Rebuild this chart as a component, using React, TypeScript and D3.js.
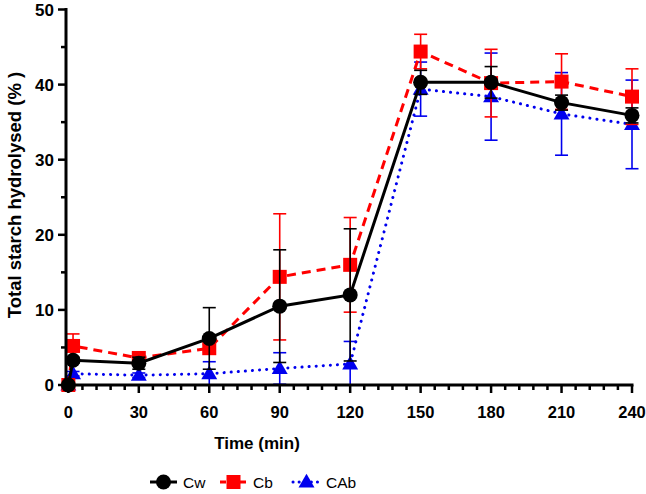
import React from "react";
import * as d3 from "d3";

const times = [0, 2, 30, 60, 90, 120, 150, 180, 210, 240];
const cwMean = [0, 3.3, 2.9, 6.2, 10.5, 12.0, 40.3, 40.3, 37.6, 35.9];
const cwSd = [0, 0.4, 0.8, 4.1, 7.5, 8.8, 1.6, 2.1, 1.0, 1.0];
const cbMean = [0, 5.2, 3.6, 4.9, 14.4, 16.0, 44.4, 40.2, 40.4, 38.4];
const cbSd = [0, 1.6, 0.3, 0.5, 8.4, 6.3, 2.3, 4.5, 3.7, 3.7];
const cabMean = [0, 1.5, 1.3, 1.5, 2.2, 2.8, 39.4, 38.4, 36.1, 34.7];
const cabSd = [0, 0.3, 0.3, 1.6, 2.1, 3.0, 3.6, 5.8, 5.5, 5.9];
const xTicks = [0, 30, 60, 90, 120, 150, 180, 210, 240];
const yTicks = [0, 10, 20, 30, 40, 50];
const seriesNames = ["Cw", "Cb", "CAb"];

const W = 646;
const H = 494;
const font = "'Liberation Sans', Arial, sans-serif";

export default function App() {
  const x = d3.scaleLinear().domain([-1, 240]).range([66, 632]);
  const y = d3.scaleLinear().domain([0, 50]).range([385, 9.5]);

  const series = [
    { name: seriesNames[2], mean: cabMean, sd: cabSd, color: "#0000ee", dash: "0.1 7", shape: "tri", cap: "round" },
    { name: seriesNames[1], mean: cbMean, sd: cbSd, color: "#ff0000", dash: "9 6", shape: "sq", cap: "butt" },
    { name: seriesNames[0], mean: cwMean, sd: cwSd, color: "#000000", dash: "", shape: "circ", cap: "butt" },
  ];

  const line = (vals: number[]) =>
    d3.line<number>().x((_, i) => x(times[i])).y((v) => y(v))(vals) || "";

  const marker = (shape: string, cx: number, cy: number, color: string, key: string) => {
    if (shape === "circ") return <circle key={key} cx={cx} cy={cy} r={7.5} fill={color} />;
    if (shape === "sq") return <rect key={key} x={cx - 7} y={cy - 7} width={14} height={14} fill={color} />;
    const s = d3.symbol().type(d3.symbolTriangle).size(110)() || "";
    return <path key={key} d={s} transform={`translate(${cx},${cy + 1})`} fill={color} />;
  };

  const minorX = d3.range(0, 241, 6).filter((t) => t % 30 !== 0);
  const minorY = d3.range(5, 50, 10);

  const legendItems = [
    { name: seriesNames[0], x0: 150, color: "#000", dash: "", shape: "circ", cap: "butt" },
    { name: seriesNames[1], x0: 220, color: "#ff0000", dash: "6 4", shape: "sq", cap: "butt" },
    { name: seriesNames[2], x0: 293, color: "#0000ee", dash: "0.1 6", shape: "tri", cap: "round" },
  ];

  return (
    <svg width={W} height={H} style={{ position: "absolute", left: 0, top: 0, background: "#fff" }}>
      {series.map((s) => (
        <g key={s.name}>
          {s.mean.map((m, i) => {
            if (s.sd[i] <= 0) return null;
            const cx = x(times[i]);
            const y1 = y(m + s.sd[i]);
            const y2 = y(Math.max(0, m - s.sd[i]));
            return (
              <g key={i} stroke={s.color} strokeWidth={1.6}>
                <line x1={cx} x2={cx} y1={y1} y2={y2} />
                <line x1={cx - 6.5} x2={cx + 6.5} y1={y1} y2={y1} />
                <line x1={cx - 6.5} x2={cx + 6.5} y1={y2} y2={y2} />
              </g>
            );
          })}
          <path
            d={line(s.mean)}
            fill="none"
            stroke={s.color}
            strokeWidth={3}
            strokeDasharray={s.dash || undefined}
            strokeLinecap={s.cap as any}
          />
          {s.mean.map((m, i) => marker(s.shape, x(times[i]), y(m), s.color, `${s.name}-${i}`))}
        </g>
      ))}

      <g stroke="#000" strokeWidth={3} fill="none">
        <line x1={66} x2={66} y1={8} y2={386.5} />
        <line x1={64.5} x2={633.5} y1={385} y2={385} />
      </g>
      <g stroke="#000" strokeWidth={2.5}>
        {yTicks.map((t) => (
          <line key={t} x1={58} x2={66} y1={y(t)} y2={y(t)} />
        ))}
        {minorY.map((t) => (
          <line key={t} x1={61} x2={66} y1={y(t)} y2={y(t)} />
        ))}
        {xTicks.map((t) => (
          <line key={t} x1={x(t)} x2={x(t)} y1={385} y2={393} />
        ))}
        {minorX.map((t) => (
          <line key={t} x1={x(t)} x2={x(t)} y1={385} y2={390} />
        ))}
      </g>
      <g fontFamily={font} fontWeight="bold" fill="#000">
        {yTicks.map((t) => (
          <text key={t} x={54} y={y(t)} dy="0.36em" textAnchor="end" fontSize={17}>
            {t}
          </text>
        ))}
        {xTicks.map((t) => (
          <text key={t} x={x(t)} y={418} textAnchor="middle" fontSize={16.5}>
            {t}
          </text>
        ))}
      </g>
      <text x={257} y={449} textAnchor="middle" fontFamily={font} fontWeight="bold" fontSize={17}>
        Time (min)
      </text>
      <text
        transform={`translate(21,195) rotate(-90)`}
        textAnchor="middle"
        fontFamily={font}
        fontWeight="bold"
        fontSize={18.5}
      >
        Total starch hydrolysed (% )
      </text>

      {legendItems.map((l) => (
        <g key={l.name}>
          <line
            x1={l.x0}
            x2={l.x0 + 27}
            y1={482}
            y2={482}
            stroke={l.color}
            strokeWidth={3}
            strokeDasharray={l.dash || undefined}
            strokeLinecap={l.cap as any}
          />
          {marker(l.shape, l.x0 + 13.5, 482, l.color, `leg-${l.name}`)}
          <text x={l.x0 + 33} y={482} dy="0.36em" fontFamily={font} fontSize={15.5}>
            {l.name}
          </text>
        </g>
      ))}
    </svg>
  );
}
